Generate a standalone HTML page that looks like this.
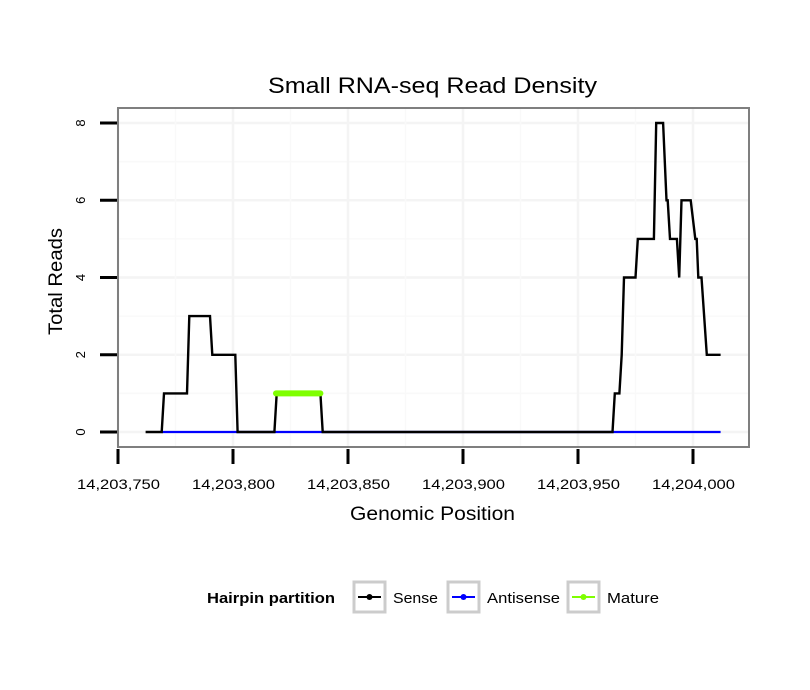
<!DOCTYPE html>
<html><head><meta charset="utf-8"><style>
body{margin:0;background:#fff;}
svg{display:block;font-family:"Liberation Sans",sans-serif;}
</style></head><body>
<svg id="chart" width="810" height="690"></svg>
<script>
const xTicks=[14203750,14203800,14203850,14203900,14203950,14204000];
const xTickLabels=["14,203,750","14,203,800","14,203,850","14,203,900","14,203,950","14,204,000"];
const yTicks=[0,2,4,6,8];
const senseX=[14203762,14203769,14203770,14203780,14203781,14203790,14203791,14203801,14203802,14203818,14203819,14203838,14203839,14203965,14203966,14203968,14203969,14203970,14203975,14203976,14203983,14203984,14203987,14203988.5,14203989,14203990,14203993,14203994,14203995,14203999,14204001,14204001.6,14204002.3,14204003.7,14204006,14204012];
const senseY=[0,0,1,1,3,3,2,2,0,0,1,1,0,0,1,1,2,4,4,5,5,8,8,6,6,5,5,4,6,6,5,5,4,4,2,2];
const antisenseX=[14203769,14204012];
const antisenseY=[0,0];
const matureX=[14203818.7,14203838];
const matureY=[1,1];

const NS="http://www.w3.org/2000/svg";
const svg=document.getElementById('chart');
const L=118,R=749,T=108,B=447;
const sx=v=>118+(v-14203750)*2.3;
const sy=v=>432-v*38.625;
function mk(tag,attrs,parent){const e=document.createElementNS(NS,tag);for(const k in attrs)e.setAttribute(k,attrs[k]);(parent||svg).appendChild(e);return e;}

let g=mk('g',{});


for(let v=1;v<=8;v+=2){mk('line',{x1:L,x2:R,y1:sy(v),y2:sy(v),stroke:'#f9f9f9','stroke-width':1.5},g);}
for(const v of yTicks){mk('line',{x1:L,x2:R,y1:sy(v),y2:sy(v),stroke:'#f4f4f4','stroke-width':2.5},g);}
for(let v=14203775;v<14204025;v+=50){mk('line',{x1:sx(v),x2:sx(v),y1:T,y2:B,stroke:'#f9f9f9','stroke-width':1.5},g);}
for(const v of xTicks){mk('line',{x1:sx(v),x2:sx(v),y1:T,y2:B,stroke:'#f4f4f4','stroke-width':2.5},g);}

function path(xs,ys){return xs.map((x,i)=>(i?'L':'M')+sx(x).toFixed(1)+','+sy(ys[i]).toFixed(1)).join(' ');}
let p=mk('path',{d:path(antisenseX,antisenseY),stroke:'#0000ff','stroke-width':2.2,fill:'none'});


p=mk('path',{d:path(senseX,senseY),stroke:'#000','stroke-width':2.4,fill:'none'});


p=mk('path',{d:path(matureX,matureY),stroke:'#7fff00','stroke-width':6,fill:'none','stroke-linecap':'round'});



let fr=mk('rect',{x:L,y:T,width:R-L,height:B-T,fill:'none',stroke:'#7f7f7f','stroke-width':2});



xTicks.forEach((v,i)=>{
  const t=mk('line',{x1:sx(v),x2:sx(v),y1:449,y2:464,stroke:'#000','stroke-width':3});
  
  
  const l=mk('text',{x:sx(v)-41,y:489,'font-size':14,textLength:83,lengthAdjust:'spacingAndGlyphs'});
  
  
  l.textContent=xTickLabels[i];
});
yTicks.forEach(v=>{
  const t=mk('line',{x1:100,x2:117,y1:sy(v),y2:sy(v),stroke:'#000','stroke-width':3});
  
  
  const l=mk('text',{x:0,y:0,'text-anchor':'middle','font-size':13,transform:`translate(85,${sy(v)}) rotate(-90)`});
  
  
  l.textContent=v;
});
</script>
<div style="position:absolute;left:0;top:0;width:810px;height:690px;pointer-events:none;">
<svg width="810" height="690" style="font-family:'Liberation Sans',sans-serif">
<text x="268" y="93" font-size="22" textLength="329" lengthAdjust="spacingAndGlyphs">Small RNA-seq Read Density</text>
<text x="350" y="520" font-size="19" textLength="165" lengthAdjust="spacingAndGlyphs">Genomic Position</text>
<text transform="translate(62,335) rotate(-90)" font-size="19" textLength="107" lengthAdjust="spacingAndGlyphs">Total Reads</text>
<g>
<text x="207" y="603" font-size="15" font-weight="bold" textLength="128" lengthAdjust="spacingAndGlyphs">Hairpin partition</text>
<g>
<rect x="354" y="582" width="31" height="30" fill="#fff" stroke="#cccccc" stroke-width="3"/>
<line x1="358" x2="381" y1="597" y2="597" stroke="#000" stroke-width="2"/><circle cx="369.5" cy="597" r="3" fill="#000"/>
<text x="393" y="603" font-size="15" textLength="45" lengthAdjust="spacingAndGlyphs">Sense</text></g>
<g>
<rect x="448" y="582" width="31" height="30" fill="#fff" stroke="#cccccc" stroke-width="3"/>
<line x1="452" x2="475" y1="597" y2="597" stroke="#0000ff" stroke-width="2"/><circle cx="463.5" cy="597" r="3" fill="#0000ff"/>
<text x="487" y="603" font-size="15" textLength="73" lengthAdjust="spacingAndGlyphs">Antisense</text></g>
<g>
<rect x="568" y="582" width="31" height="30" fill="#fff" stroke="#cccccc" stroke-width="3"/>
<line x1="572" x2="595" y1="597" y2="597" stroke="#7fff00" stroke-width="2"/><circle cx="583.5" cy="597" r="3" fill="#7fff00"/>
<text x="607" y="603" font-size="15" textLength="52" lengthAdjust="spacingAndGlyphs">Mature</text></g>
</g>
</svg></div>
</body></html>
